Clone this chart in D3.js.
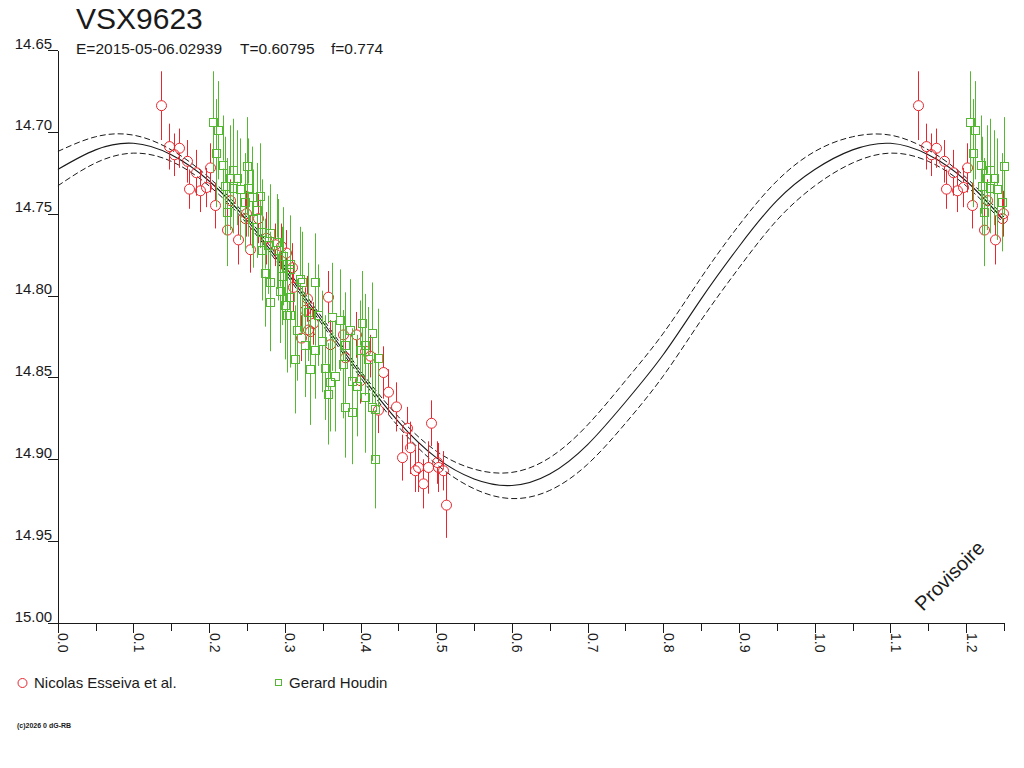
<!DOCTYPE html>
<html>
<head>
<meta charset="utf-8">
<script src="https://cdn.jsdelivr.net/npm/d3@7"></script>
<style>
  body { margin: 0; background: #fff; }
  svg { display: block; font-family: "Liberation Sans", Arial, sans-serif; }
</style>
</head>
<body>
<svg id="chart" width="1024" height="768"></svg>
<script>
// ---- data ----
var starName = "VSX9623";
var elements = ["E=2015-05-06.02939", "T=0.60795", "f=0.774"];
var seriesNames = ["Nicolas Esseiva et al.", "Gerard Houdin"];

var yTicks = [14.65, 14.70, 14.75, 14.80, 14.85, 14.90, 14.95, 15.00];
var xMajorTicks = [0, 0.1, 0.2, 0.3, 0.4, 0.5, 0.6, 0.7, 0.8, 0.9, 1.0, 1.1, 1.2];
var xMinorTicks = [0.05, 0.15, 0.25, 0.35, 0.45, 0.55, 0.65, 0.75, 0.85, 0.95, 1.05, 1.15, 1.25];

// fitted curve and its two bounds
var curvePhase = [0, 0.05, 0.10, 0.15, 0.20, 0.25, 0.30, 0.35, 0.40, 0.45, 0.50, 0.55, 0.60,
                  0.65, 0.70, 0.75, 0.80, 0.85, 0.90, 0.95, 1.00, 1.05, 1.10, 1.15, 1.20, 1.25];
var curveMag = [14.723, 14.711, 14.707, 14.714, 14.730, 14.754, 14.784, 14.816, 14.848, 14.877, 14.899, 14.912, 14.916,
                14.909, 14.891, 14.865, 14.836, 14.802, 14.770, 14.742, 14.723, 14.711, 14.707, 14.714, 14.730, 14.754];
var curveUpper = [14.712, 14.703, 14.702, 14.711, 14.728, 14.752, 14.782, 14.814, 14.846, 14.874, 14.895, 14.906, 14.908,
                  14.899, 14.879, 14.852, 14.823, 14.789, 14.757, 14.730, 14.712, 14.703, 14.702, 14.711, 14.728, 14.752];
var curveLower = [14.733, 14.719, 14.713, 14.718, 14.733, 14.756, 14.786, 14.818, 14.850, 14.880, 14.903, 14.918, 14.924,
                  14.919, 14.903, 14.878, 14.849, 14.815, 14.783, 14.754, 14.733, 14.719, 14.713, 14.718, 14.733, 14.756];

// Nicolas Esseiva et al.
var esseivaPhase = [0.136, 0.147, 0.160, 0.154, 0.171, 0.183, 0.201, 0.173, 0.188, 0.196, 0.208, 0.224, 0.238, 0.254,
                    0.247, 0.264, 0.287, 0.295, 0.275, 0.309, 0.311, 0.329, 0.357, 0.322, 0.337, 0.331, 0.377, 0.394,
                    0.380, 0.430, 0.436, 0.447, 0.423, 0.461, 0.465, 0.455, 0.493, 0.476, 0.472, 0.489, 0.502, 0.509,
                    0.482, 0.513, 0.501, 0.228, 0.327, 0.333, 0.302, 0.360, 0.406, 0.413, 0.399, 0.249];
var esseivaMag = [14.684, 14.709, 14.710, 14.714, 14.718, 14.725, 14.722, 14.735, 14.736, 14.734, 14.745, 14.760, 14.766, 14.772,
                  14.753, 14.753, 14.769, 14.770, 14.765, 14.783, 14.795, 14.802, 14.801, 14.826, 14.817, 14.821, 14.824, 14.824,
                  14.838, 14.847, 14.859, 14.868, 14.870, 14.881, 14.893, 14.899, 14.878, 14.905, 14.907, 14.905, 14.905, 14.907,
                  14.915, 14.928, 14.902, 14.742, 14.809, 14.822, 14.774, 14.830, 14.834, 14.837, 14.852, 14.750];
var esseivaErr = [0.021, 0.014, 0.012, 0.013, 0.013, 0.014, 0.015, 0.012, 0.013, 0.012, 0.014, 0.016, 0.015, 0.014,
                  0.013, 0.015, 0.013, 0.014, 0.016, 0.015, 0.015, 0.014, 0.016, 0.014, 0.013, 0.014, 0.015, 0.014,
                  0.013, 0.016, 0.014, 0.015, 0.014, 0.013, 0.016, 0.014, 0.014, 0.015, 0.013, 0.016, 0.015, 0.012,
                  0.015, 0.020, 0.013, 0.013, 0.014, 0.015, 0.014, 0.015, 0.014, 0.013, 0.014, 0.014];

// Gerard Houdin
var houdinPhase = [0.205, 0.212, 0.209, 0.219, 0.231, 0.250, 0.228, 0.237, 0.221, 0.231, 0.257, 0.247, 0.263, 0.224,
                   0.258, 0.270, 0.281, 0.290, 0.291, 0.298, 0.274, 0.281, 0.296, 0.307, 0.323, 0.340, 0.294, 0.307,
                   0.281, 0.307, 0.331, 0.344, 0.307, 0.320, 0.303, 0.313, 0.333, 0.349, 0.362, 0.353, 0.366, 0.360,
                   0.357, 0.402, 0.415, 0.377, 0.389, 0.395, 0.406, 0.423, 0.415, 0.380, 0.389, 0.419, 0.419, 0.406,
                   0.399, 0.410, 0.241, 0.252, 0.267, 0.270, 0.278, 0.300, 0.316, 0.327, 0.340, 0.373, 0.380, 0.386];
var houdinMag = [14.694, 14.699, 14.713, 14.720, 14.723, 14.721, 14.728, 14.728, 14.733, 14.734, 14.740, 14.743, 14.748, 14.749,
                 14.753, 14.761, 14.762, 14.767, 14.772, 14.776, 14.786, 14.792, 14.788, 14.784, 14.792, 14.792, 14.797, 14.801,
                 14.804, 14.812, 14.810, 14.812, 14.781, 14.790, 14.812, 14.839, 14.845, 14.828, 14.813, 14.844, 14.849, 14.853,
                 14.860, 14.817, 14.823, 14.842, 14.852, 14.855, 14.862, 14.838, 14.868, 14.868, 14.871, 14.900, 14.869, 14.830,
                 14.833, 14.839, 14.735, 14.734, 14.739, 14.772, 14.769, 14.806, 14.821, 14.830, 14.833, 14.815, 14.830, 14.821];
var houdinErr = [0.031, 0.030, 0.033, 0.030, 0.031, 0.030, 0.032, 0.029, 0.030, 0.028, 0.031, 0.030, 0.029, 0.033,
                 0.030, 0.032, 0.030, 0.029, 0.031, 0.030, 0.033, 0.031, 0.030, 0.032, 0.031, 0.030, 0.032, 0.031,
                 0.030, 0.032, 0.030, 0.031, 0.030, 0.032, 0.035, 0.033, 0.034, 0.031, 0.033, 0.032, 0.034, 0.030,
                 0.031, 0.032, 0.031, 0.033, 0.032, 0.031, 0.034, 0.030, 0.033, 0.031, 0.032, 0.030, 0.034, 0.031,
                 0.030, 0.032, 0.031, 0.030, 0.032, 0.031, 0.030, 0.033, 0.031, 0.032, 0.030, 0.031, 0.032, 0.031];

var RED = "#e8262d";
var GREEN = "#55b832";
var INK = "#1a1a1a";

// ---- layout ----
var svg = d3.select("#chart");
var plotLeft = 57.7, plotRight = 1004, plotTop = 50, plotBottom = 623;

var x = d3.scaleLinear().domain([0, 1.25]).range([plotLeft, plotRight]);
var y = d3.scaleLinear().domain([14.65, 15.00]).range([plotTop, plotBottom]);

svg.append("defs").append("clipPath").attr("id", "plotClip")
  .append("rect").attr("x", plotLeft).attr("y", 0)
  .attr("width", plotRight - plotLeft + 6).attr("height", plotBottom);

// title and elements
svg.append("text").attr("x", 76).attr("y", 29)
  .attr("font-size", 30).attr("fill", INK).text(starName);

var elemX = [76, 240, 331];
svg.selectAll(".elem").data(elements).enter().append("text")
  .attr("class", "elem")
  .attr("x", function(d, i) { return elemX[i]; })
  .attr("y", 54)
  .attr("font-size", 15.5).attr("fill", INK)
  .text(function(d) { return d; });

// ---- axes ----
var xAxisMajor = d3.axisBottom(x).tickValues(xMajorTicks).tickSize(10).tickSizeOuter(0)
  .tickFormat(d3.format(".1f"));
var xAxisMinor = d3.axisBottom(x).tickValues(xMinorTicks).tickSize(8).tickSizeOuter(0)
  .tickFormat("");

svg.append("g").attr("transform", "translate(0," + plotBottom + ")").call(xAxisMinor);
var gx = svg.append("g").attr("transform", "translate(0," + plotBottom + ")").call(xAxisMajor);

gx.selectAll("text")
  .attr("transform", "rotate(90)")
  .attr("x", 10).attr("y", 0).attr("dy", "0")
  .style("text-anchor", "start")
  .attr("font-size", 14).attr("fill", INK);

var yAxis = d3.axisLeft(y).tickValues(yTicks).tickSize(10).tickSizeOuter(0)
  .tickFormat(d3.format(".2f"));
var gy = svg.append("g").attr("transform", "translate(" + plotLeft + ",0)").call(yAxis);
gy.selectAll("text")
  .attr("x", -5.5).attr("y", -2).attr("dy", "0")
  .style("text-anchor", "end")
  .attr("font-size", 15).attr("fill", INK);

svg.selectAll(".domain, .tick line").attr("stroke", INK).attr("shape-rendering", "crispEdges");

// ---- curves ----
var curveRows = curvePhase.map(function(p, i) {
  return { p: p, m: curveMag[i], hi: curveUpper[i], lo: curveLower[i] };
});

function curveLine(key) {
  return d3.line()
    .x(function(d) { return x(d.p); })
    .y(function(d) { return y(d[key]); })
    .curve(d3.curveNatural);
}

var plot = svg.append("g").attr("clip-path", "url(#plotClip)");

plot.append("path").datum(curveRows).attr("d", curveLine("m"))
  .attr("fill", "none").attr("stroke", INK).attr("stroke-width", 1.1);
["hi", "lo"].forEach(function(k) {
  plot.append("path").datum(curveRows).attr("d", curveLine(k))
    .attr("fill", "none").attr("stroke", INK).attr("stroke-width", 1)
    .attr("stroke-dasharray", "6,3");
});

// ---- observations (phase < 0.25 repeated one cycle later) ----
function buildRows(phase, mag, err) {
  var rows = [];
  phase.forEach(function(p, i) {
    rows.push({ p: p, m: mag[i], e: err[i] });
    if (p + 1 <= 1.25) rows.push({ p: p + 1, m: mag[i], e: err[i] });
  });
  return rows;
}

var esseiva = buildRows(esseivaPhase, esseivaMag, esseivaErr);
var houdin = buildRows(houdinPhase, houdinMag, houdinErr);

function drawBars(g, rows, color, gap) {
  g.selectAll(".bar-top").data(rows).enter().append("line")
    .attr("x1", function(d) { return Math.round(x(d.p)) + 0.5; })
    .attr("x2", function(d) { return Math.round(x(d.p)) + 0.5; })
    .attr("y1", function(d) { return y(d.m - d.e); })
    .attr("y2", function(d) { return y(d.m) - gap; })
    .attr("stroke", color).attr("stroke-width", 1);
  g.selectAll(".bar-bot").data(rows).enter().append("line")
    .attr("x1", function(d) { return Math.round(x(d.p)) + 0.5; })
    .attr("x2", function(d) { return Math.round(x(d.p)) + 0.5; })
    .attr("y1", function(d) { return y(d.m) + gap; })
    .attr("y2", function(d) { return y(d.m + d.e); })
    .attr("stroke", color).attr("stroke-width", 1);
}

var gRed = plot.append("g");
drawBars(gRed, esseiva, RED, 5);
gRed.selectAll("circle").data(esseiva).enter().append("circle")
  .attr("cx", function(d) { return Math.round(x(d.p)) + 0.5; })
  .attr("cy", function(d) { return y(d.m); })
  .attr("r", 5)
  .attr("fill", "none").attr("stroke", RED).attr("stroke-width", 1);

var gGreen = plot.append("g");
drawBars(gGreen, houdin, GREEN, 4);
gGreen.selectAll("rect").data(houdin).enter().append("rect")
  .attr("x", function(d) { return Math.round(x(d.p)) - 3.5; })
  .attr("y", function(d) { return Math.round(y(d.m)) - 3.5; })
  .attr("width", 8).attr("height", 8)
  .attr("fill", "none").attr("stroke", GREEN).attr("stroke-width", 1)
  .attr("shape-rendering", "crispEdges");

// watermark
svg.append("text")
  .attr("transform", "translate(923,612) rotate(-45)")
  .attr("font-size", 20).attr("fill", INK)
  .text("Provisoire");

// ---- legend ----
var legend = svg.append("g");
legend.append("circle").attr("cx", 22.5).attr("cy", 683).attr("r", 4.5)
  .attr("fill", "none").attr("stroke", RED);
legend.append("text").attr("x", 34).attr("y", 688)
  .attr("font-size", 15).attr("fill", INK).text(seriesNames[0]);
legend.append("rect").attr("x", 275.5).attr("y", 679.5).attr("width", 6).attr("height", 6)
  .attr("fill", "none").attr("stroke", GREEN).attr("shape-rendering", "crispEdges");
legend.append("text").attr("x", 289).attr("y", 688)
  .attr("font-size", 15).attr("fill", INK).text(seriesNames[1]);

svg.append("text").attr("x", 17).attr("y", 728)
  .attr("font-size", 7).attr("font-weight", "bold").attr("fill", INK)
  .text("(c)2026 0 dG-RB");
</script>
</body>
</html>
